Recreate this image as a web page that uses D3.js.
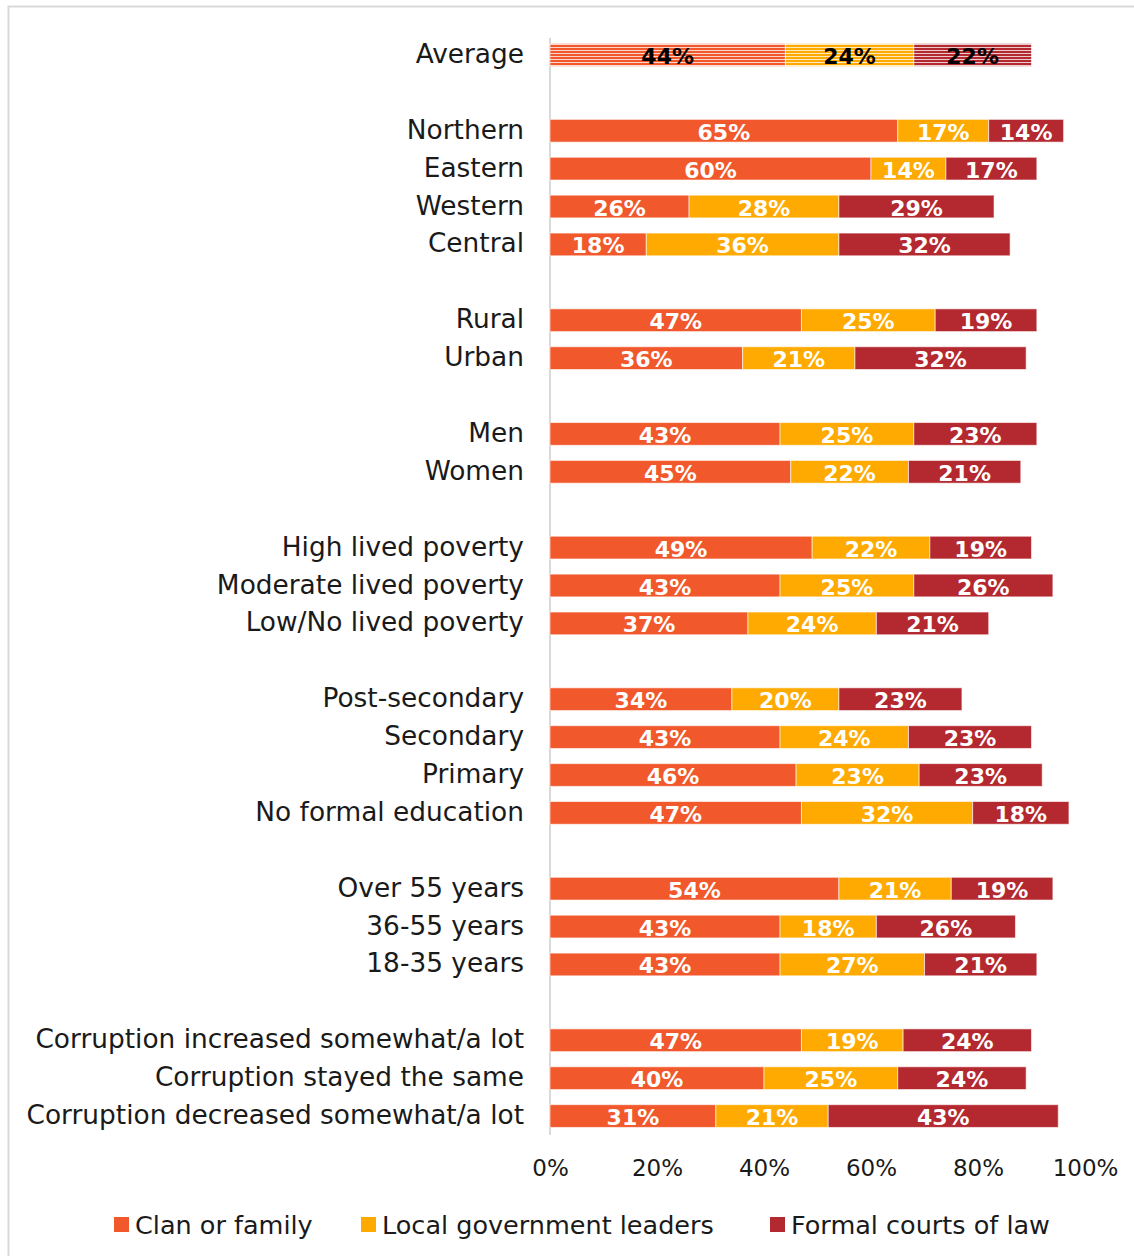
<!DOCTYPE html>
<html>
<head>
<meta charset="utf-8">
<script src="https://cdn.jsdelivr.net/npm/d3@7"></script>
<style>
  html, body { margin: 0; padding: 0; background: #fff; }
  svg { display: block; }
  text { font-family: "DejaVu Sans", sans-serif; }
</style>
</head>
<body>
<script>
// ---- data ----
const categories = [
  "Average", "",
  "Northern", "Eastern", "Western", "Central", " ",
  "Rural", "Urban", "  ",
  "Men", "Women", "   ",
  "High lived poverty", "Moderate lived poverty", "Low/No lived poverty", "    ",
  "Post-secondary", "Secondary", "Primary", "No formal education", "     ",
  "Over 55 years", "36-55 years", "18-35 years", "      ",
  "Corruption increased somewhat/a lot", "Corruption stayed the same", "Corruption decreased somewhat/a lot"
];
const seriesNames = ["Clan or family", "Local government leaders", "Formal courts of law"];
const clanFamily = {
  "Average": 44, "Northern": 65, "Eastern": 60, "Western": 26, "Central": 18,
  "Rural": 47, "Urban": 36, "Men": 43, "Women": 45,
  "High lived poverty": 49, "Moderate lived poverty": 43, "Low/No lived poverty": 37,
  "Post-secondary": 34, "Secondary": 43, "Primary": 46, "No formal education": 47,
  "Over 55 years": 54, "36-55 years": 43, "18-35 years": 43,
  "Corruption increased somewhat/a lot": 47, "Corruption stayed the same": 40, "Corruption decreased somewhat/a lot": 31
};
const localGov = {
  "Average": 24, "Northern": 17, "Eastern": 14, "Western": 28, "Central": 36,
  "Rural": 25, "Urban": 21, "Men": 25, "Women": 22,
  "High lived poverty": 22, "Moderate lived poverty": 25, "Low/No lived poverty": 24,
  "Post-secondary": 20, "Secondary": 24, "Primary": 23, "No formal education": 32,
  "Over 55 years": 21, "36-55 years": 18, "18-35 years": 27,
  "Corruption increased somewhat/a lot": 19, "Corruption stayed the same": 25, "Corruption decreased somewhat/a lot": 21
};
const formalCourts = {
  "Average": 22, "Northern": 14, "Eastern": 17, "Western": 29, "Central": 32,
  "Rural": 19, "Urban": 32, "Men": 23, "Women": 21,
  "High lived poverty": 19, "Moderate lived poverty": 26, "Low/No lived poverty": 21,
  "Post-secondary": 23, "Secondary": 23, "Primary": 23, "No formal education": 18,
  "Over 55 years": 19, "36-55 years": 26, "18-35 years": 21,
  "Corruption increased somewhat/a lot": 24, "Corruption stayed the same": 24, "Corruption decreased somewhat/a lot": 43
};
const tickValues = [0, 20, 40, 60, 80, 100];
const colors = ["#F1582B", "#FFAA00", "#B4282F"];

// ---- layout ----
const W = 1134, H = 1256;
const svg = d3.select("body").append("svg").attr("width", W).attr("height", H);

// frame
svg.append("rect").attr("x", 8.5).attr("y", 6.5).attr("width", W + 10).attr("height", H + 10)
  .attr("fill", "none").attr("stroke", "#d9d9d9").attr("stroke-width", 2);

const x = d3.scaleLinear().domain([0, 100]).range([550, 1085]);
const y = d3.scaleBand().domain(categories).range([36, 1135]).paddingInner(0.4).paddingOuter(0.2);

// patterns for the Average row
const defs = svg.append("defs");
colors.forEach((c, i) => {
  const p = defs.append("pattern").attr("id", "stripe" + i)
    .attr("patternUnits", "userSpaceOnUse").attr("width", 10).attr("height", 3);
  p.append("rect").attr("width", 10).attr("height", 3).attr("fill", c);
  p.append("rect").attr("y", 2).attr("width", 10).attr("height", 1).attr("fill", "#fff").attr("opacity", 0.75);
});

const rows = categories.filter(c => c.trim() !== "").map(c => {
  const vals = [clanFamily[c], localGov[c], formalCourts[c]];
  let acc = 0;
  return { cat: c, segs: vals.map((v, i) => { const s = { i, v, x0: acc, x1: acc + v }; acc += v; return s; }) };
});

// axis line
svg.append("line").attr("x1", x(0)).attr("x2", x(0)).attr("y1", 38).attr("y2", 1135)
  .attr("stroke", "#d9d9d9").attr("stroke-width", 2);

const g = svg.append("g");
rows.forEach(r => {
  const isAvg = r.cat === "Average";
  const yy = y(r.cat), bh = y.bandwidth();
  r.segs.forEach(s => {
    g.append("rect")
      .attr("x", x(s.x0)).attr("y", yy)
      .attr("width", x(s.x1) - x(s.x0)).attr("height", bh)
      .attr("fill", isAvg ? `url(#stripe${s.i})` : colors[s.i])
      .attr("stroke", "#fff").attr("stroke-opacity", 0.6).attr("stroke-width", 1);
    g.append("text")
      .attr("x", (x(s.x0) + x(s.x1)) / 2).attr("y", yy + bh / 2 + 9)
      .attr("text-anchor", "middle")
      .attr("font-size", 22).attr("font-weight", "bold")
      .attr("fill", isAvg ? "#000" : "#fff")
      .text(s.v + "%");
  });
  svg.append("text")
    .attr("x", 524).attr("y", yy + bh / 2 + 8)
    .attr("text-anchor", "end").attr("font-size", 26.4).attr("fill", "#1a1a1a")
    .text(r.cat);
});

// x axis tick labels
const axis = d3.axisBottom(x).tickValues(tickValues).tickFormat(d => d + "%").tickSize(0).tickPadding(0);
const ax = svg.append("g").attr("transform", "translate(0,1160)").call(axis);
ax.select(".domain").remove();
ax.selectAll("text").attr("font-size", 23).attr("fill", "#1a1a1a")
  .attr("font-family", "DejaVu Sans, sans-serif").attr("dy", "0.7em");

// legend
const legendX = [114, 361, 770];
seriesNames.forEach((n, i) => {
  svg.append("rect").attr("x", legendX[i]).attr("y", 1217).attr("width", 15).attr("height", 15).attr("fill", colors[i]);
  svg.append("text").attr("x", legendX[i] + 21).attr("y", 1234).attr("font-size", 25.5).attr("fill", "#1a1a1a").text(n);
});
</script>
</body>
</html>
